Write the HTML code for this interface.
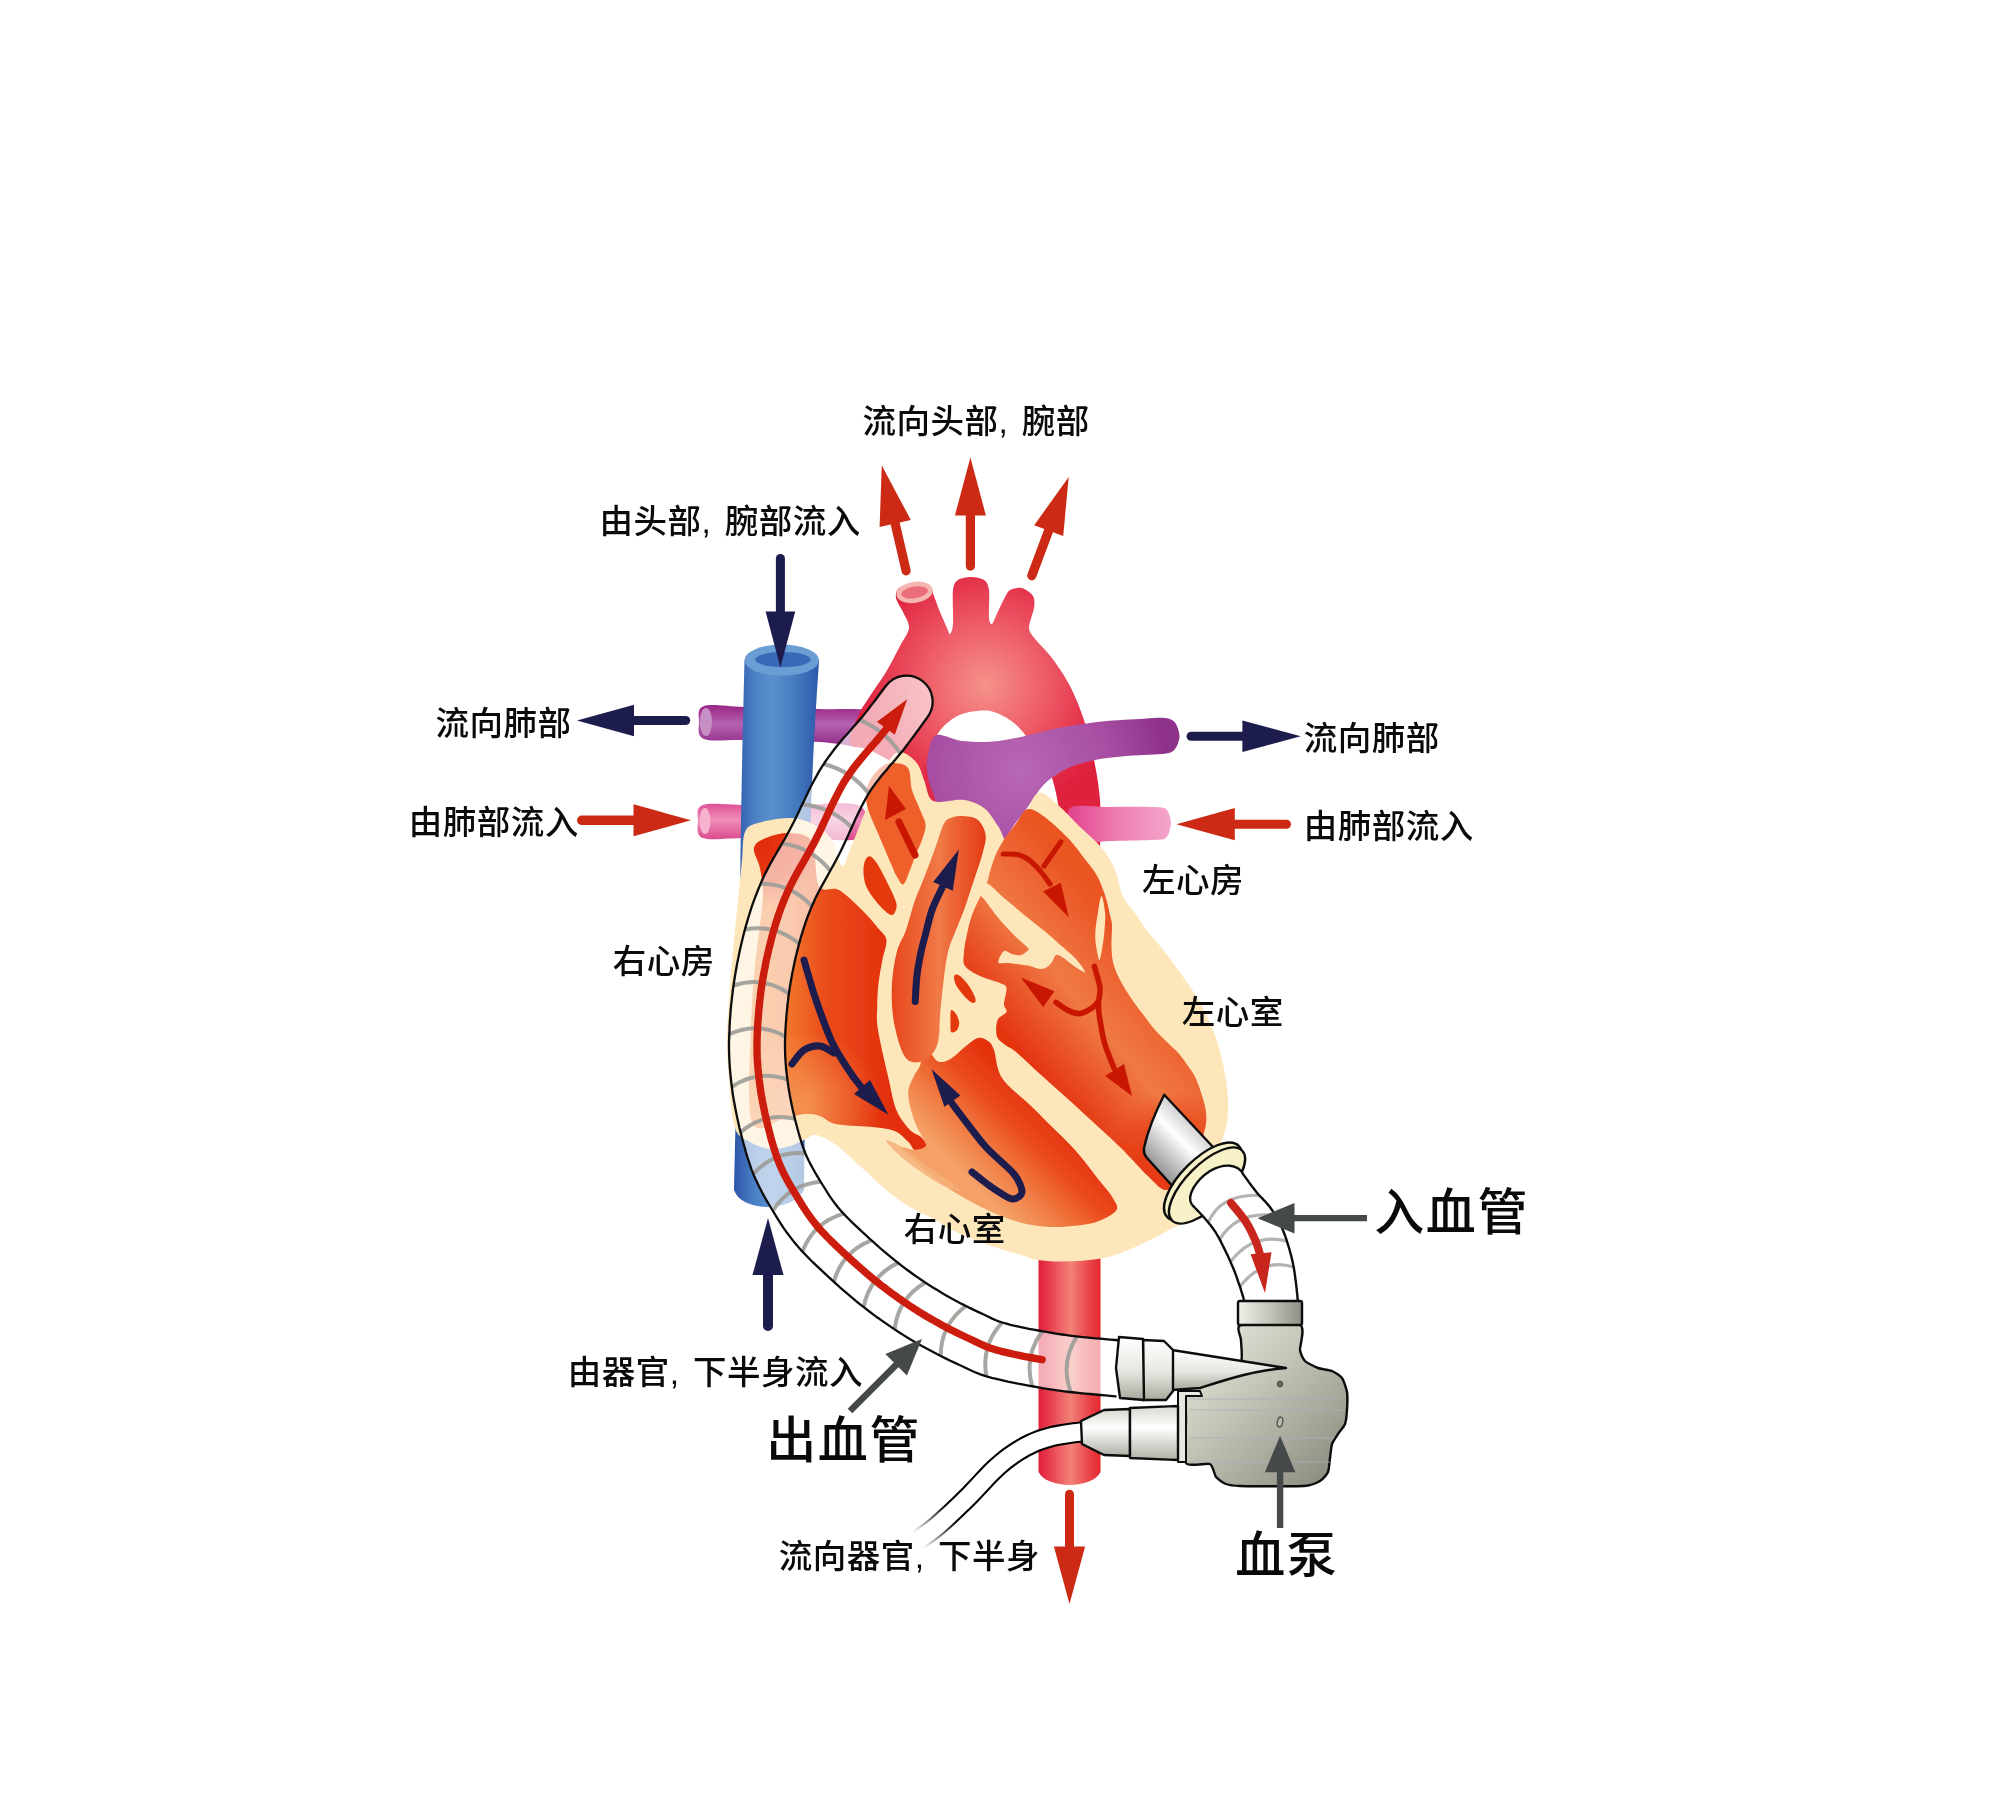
<!DOCTYPE html>
<html lang="zh"><head><meta charset="utf-8"><title>心脏与血泵示意图</title>
<style>html,body{margin:0;padding:0;background:#fff}body{width:2000px;height:1807px;overflow:hidden}svg{display:block}</style>
</head><body>
<svg width="2000" height="1807" viewBox="0 0 2000 1807">
<defs>
<linearGradient id="gBlue" x1="0" x2="1" y1="0" y2="0"><stop offset="0" stop-color="#2c55a8"/><stop offset=".25" stop-color="#4c82c6"/><stop offset=".45" stop-color="#5a90cd"/><stop offset=".75" stop-color="#4278bd"/><stop offset="1" stop-color="#2c58ac"/></linearGradient>
<linearGradient id="gPurV" x1="0" x2="0" y1="0" y2="1"><stop offset="0" stop-color="#9a2486"/><stop offset=".45" stop-color="#b463b0"/><stop offset="1" stop-color="#8e2484"/></linearGradient>
<linearGradient id="gPinkV" x1="0" x2="0" y1="0" y2="1"><stop offset="0" stop-color="#dd4f93"/><stop offset=".45" stop-color="#f08fb9"/><stop offset="1" stop-color="#d9478c"/></linearGradient>
<linearGradient id="gPinkR" x1="0" x2="1" y1="0" y2="0"><stop offset="0" stop-color="#e0408a"/><stop offset=".5" stop-color="#ee7fb2"/><stop offset="1" stop-color="#f3a6cb"/></linearGradient>
<linearGradient id="gAoD" x1="0" x2="1" y1="0" y2="0"><stop offset="0" stop-color="#e01e3a"/><stop offset=".25" stop-color="#ea4c56"/><stop offset=".52" stop-color="#f28278"/><stop offset=".78" stop-color="#ea4a50"/><stop offset="1" stop-color="#e4262e"/></linearGradient>
<radialGradient id="gAo" cx="985" cy="685" r="135" gradientUnits="userSpaceOnUse"><stop offset="0" stop-color="#f5928a"/><stop offset=".45" stop-color="#ee5c68"/><stop offset=".85" stop-color="#e22a46"/><stop offset="1" stop-color="#de203c"/></radialGradient>
<radialGradient id="gPA" cx="1020" cy="770" r="150" gradientUnits="userSpaceOnUse"><stop offset="0" stop-color="#b868b5"/><stop offset=".6" stop-color="#a74ea3"/><stop offset="1" stop-color="#8e308a"/></radialGradient>
<filter id="soft" x="-5%" y="-5%" width="110%" height="110%"><feGaussianBlur stdDeviation="0.55"/></filter>
<filter id="soft2" x="-5%" y="-5%" width="110%" height="110%"><feGaussianBlur stdDeviation="2.2"/></filter>
<filter id="soft6" x="-20%" y="-20%" width="140%" height="140%"><feGaussianBlur stdDeviation="6"/></filter>
<filter id="soft10" x="-30%" y="-30%" width="160%" height="160%"><feGaussianBlur stdDeviation="10"/></filter>


<linearGradient id="gRA" x1="745" y1="0" x2="892" y2="0" gradientUnits="userSpaceOnUse"><stop offset="0" stop-color="#f58a32"/><stop offset=".3" stop-color="#f2742c"/><stop offset=".55" stop-color="#ea4c1a"/><stop offset="1" stop-color="#e22e0c"/></linearGradient>
<radialGradient id="gRAt" cx="762" cy="846" r="62" gradientUnits="userSpaceOnUse"><stop offset="0" stop-color="#e22c0c" stop-opacity="1"/><stop offset=".55" stop-color="#e22c0c" stop-opacity=".85"/><stop offset="1" stop-color="#e22c0c" stop-opacity="0"/></radialGradient>
<radialGradient id="gRAb" cx="805" cy="1105" r="75" gradientUnits="userSpaceOnUse"><stop offset="0" stop-color="#f6a060" stop-opacity=".75"/><stop offset="1" stop-color="#f6a060" stop-opacity="0"/></radialGradient>
<linearGradient id="gRV" x1="1085" y1="1145" x2="1010" y2="1220" gradientUnits="userSpaceOnUse"><stop offset="0" stop-color="#e4300c"/><stop offset=".35" stop-color="#ea4c1c"/><stop offset=".7" stop-color="#f07e44"/><stop offset="1" stop-color="#f4a066"/></linearGradient>
<linearGradient id="gLV" x1="1060" y1="1100" x2="1180" y2="1000" gradientUnits="userSpaceOnUse"><stop offset="0" stop-color="#e43410"/><stop offset=".5" stop-color="#f07a44"/><stop offset="1" stop-color="#ea5424"/></linearGradient>
<linearGradient id="gLA" x1="1000" y1="840" x2="1100" y2="900" gradientUnits="userSpaceOnUse"><stop offset="0" stop-color="#e43810"/><stop offset=".5" stop-color="#f0743e"/><stop offset="1" stop-color="#e84a1e"/></linearGradient>
<radialGradient id="gApex" cx="1180" cy="1160" r="70" gradientUnits="userSpaceOnUse"><stop offset="0" stop-color="#e6340c" stop-opacity=".95"/><stop offset=".5" stop-color="#e6340c" stop-opacity=".6"/><stop offset="1" stop-color="#e6340c" stop-opacity="0"/></radialGradient>
<radialGradient id="gLAe" cx="1052" cy="868" r="62" gradientUnits="userSpaceOnUse"><stop offset="0" stop-color="#e4300c" stop-opacity="0"/><stop offset=".6" stop-color="#e4300c" stop-opacity="0"/><stop offset="1" stop-color="#e4300c" stop-opacity=".7"/></radialGradient>
<linearGradient id="gB3" x1="0" y1="0" x2="1" y2="0"><stop offset="0" stop-color="#e8461c"/><stop offset=".5" stop-color="#f07a46"/><stop offset="1" stop-color="#e43a14"/></linearGradient>


<linearGradient id="gCan" x1="1140" y1="1165" x2="1195" y2="1110" gradientUnits="userSpaceOnUse"><stop offset="0" stop-color="#7d7d7d"/><stop offset=".35" stop-color="#c8c8c8"/><stop offset=".6" stop-color="#ffffff"/><stop offset="1" stop-color="#b5b5b5"/></linearGradient>
<linearGradient id="gPump" x1="1200" y1="1340" x2="1340" y2="1490" gradientUnits="userSpaceOnUse"><stop offset="0" stop-color="#e4e4dc"/><stop offset=".45" stop-color="#bcbcae"/><stop offset="1" stop-color="#85857a"/></linearGradient>
<linearGradient id="gBand" x1="0" y1="0" x2="1" y2="0"><stop offset="0" stop-color="#f0f0ea"/><stop offset=".5" stop-color="#c4c4ba"/><stop offset="1" stop-color="#8e8e84"/></linearGradient>
<linearGradient id="gCol" x1="0" y1="0" x2="0" y2="1"><stop offset="0" stop-color="#ffffff"/><stop offset=".55" stop-color="#e6e6e0"/><stop offset="1" stop-color="#a8a89e"/></linearGradient>
<linearGradient id="gCol2" x1="0" y1="0" x2="0" y2="1"><stop offset="0" stop-color="#d8d8d0"/><stop offset=".4" stop-color="#ffffff"/><stop offset="1" stop-color="#b0b0a6"/></linearGradient>
<linearGradient id="gFade" x1="1081" y1="1432" x2="918" y2="1540" gradientUnits="userSpaceOnUse"><stop offset="0" stop-color="#000" stop-opacity="1"/><stop offset=".78" stop-color="#000" stop-opacity="1"/><stop offset="1" stop-color="#000" stop-opacity="0"/></linearGradient>
</defs>
<rect width="2000" height="1807" fill="#fff"/>
<g filter="url(#soft)">
<path d="M704 706C711.7 703.5 725.7 706.5 745 707C764.3 707.5 798.3 708 820 709C841.7 710 865.8 706.8 875 713C884.2 719.2 884.2 741.2 875 746C865.8 750.8 841.7 743 820 742C798.3 741 764.3 740.5 745 740C725.7 739.5 711.7 742 704 739C696.3 736 699 727.5 699 722C699 716.5 696.3 708.5 704 706Z" fill="url(#gPurV)"/>
<ellipse cx="706" cy="722" rx="6" ry="14" fill="#c690c4"/>
<path d="M703 805C710.8 802.3 728.8 805 745 805C761.2 805 780.8 804.8 800 805C819.2 805.2 850 800.5 860 806C870 811.5 870 832.7 860 838C850 843.3 819.2 838 800 838C780.8 838 761.2 838 745 838C728.8 838 710.8 840.8 703 838C695.2 835.2 698 826.5 698 821C698 815.5 695.2 807.7 703 805Z" fill="url(#gPinkV)"/>
<ellipse cx="705" cy="821" rx="5.5" ry="13" fill="#f5b3cf"/>
<path d="M744.5 660C743 720 741 800 740 900C739 1000 736 1100 734 1190C738 1201 750 1206 766 1207C784 1207 798 1201 804 1190C805 1100 808 1000 809 900C810 800 815 720 819.1 660Z" fill="url(#gBlue)"/>
<ellipse cx="781.8" cy="660.2" rx="37.3" ry="15.6" fill="#6a9dd3"/>
<ellipse cx="783" cy="659.6" rx="27.8" ry="7.6" fill="#3769b7"/>
</g>
<g filter="url(#soft)">
<path d="M850 744C848.2 738.9 855 723.2 858 716C861 708.8 865.8 702.6 870 696C874.2 689.4 881.5 679.5 886 672C890.5 664.5 896.5 652.6 900 646C903.5 639.4 908.5 633.1 909 628C909.5 622.9 905 616.5 903 612C901 607.5 896.6 601.6 896 598C895.4 594.4 896.3 590.2 899 588C901.7 585.8 909.5 583.5 914 583C918.5 582.5 926 583 929 585C932 587 932.4 592 934 596C935.6 600 938 607.2 940 612C942 616.8 945.5 624.7 947 628C948.5 631.3 949.1 634.6 950 634C950.9 633.4 952.5 630.6 953 624C953.5 617.4 952.2 596.6 953 590C953.8 583.4 955.3 582 958 580C960.7 578 967.1 577 971 577C974.9 577 981.3 578 984 580C986.7 582 988.2 584.3 989 590C989.8 595.7 988.5 612.9 989 618C989.5 623.1 991 624.3 992 624C993 623.7 994.2 619.8 996 616C997.8 612.2 1001.9 602.9 1004 599C1006.1 595.1 1007.3 591.6 1010 590C1012.7 588.4 1018.5 587.1 1022 588C1025.5 588.9 1031.2 593 1033 596C1034.8 599 1034.6 603.2 1034 608C1033.4 612.8 1028.7 623.2 1029 628C1029.3 632.8 1032.5 635.5 1036 640C1039.5 644.5 1046.9 651.1 1052 658C1057.1 664.9 1065.2 676.7 1070 686C1074.8 695.3 1080.4 708.9 1084 720C1087.6 731.1 1091.6 748 1094 760C1096.4 772 1099.1 786.5 1100 800C1100.9 813.5 1100.3 835 1100 850C1099.7 865 1104 892.5 1098 900C1092 907.5 1065.7 912 1060 900C1054.3 888 1061.5 839.2 1060 820C1058.5 800.8 1054.2 783.4 1050 772C1045.8 760.6 1037.4 751.4 1032 744C1026.6 736.6 1020.3 728 1014 723C1007.7 718 997.8 712.4 990 711C982.2 709.6 968.9 711.8 962 714C955.1 716.2 948.2 721.8 944 726C939.8 730.2 936.1 735.4 934 742C931.9 748.6 930.6 760.1 930 770C929.4 779.9 933.8 807.7 930 808C926.2 808.3 914 780.7 905 772C896 763.3 878.2 754.2 870 750C861.8 745.8 851.8 749.1 850 744Z" fill="url(#gAo)"/>
<ellipse cx="914.6" cy="592.4" rx="16" ry="8.2" fill="#ec6e78" stroke="#f6b6b2" stroke-width="4.6" transform="rotate(-9 914.6 592.4)"/>
<path d="M924 765H942V818H924Z" fill="#e22a46"/>
<path d="M1038.5 1240V1472C1042 1480 1056 1485 1069.5 1485C1083 1485 1097 1480 1100.5 1472V1240Z" fill="url(#gAoD)"/>
</g>
<g filter="url(#soft)">
<path d="M1070 808C1075.3 803.3 1099.3 807.1 1110 807C1120.7 806.9 1142.5 806.7 1150 807C1157.5 807.3 1163.2 806.9 1166 809C1168.8 811.1 1171 819.1 1171 823C1171 826.9 1168.8 835.7 1166 838C1163.2 840.3 1157.5 839.6 1150 840C1142.5 840.4 1120.7 840.7 1110 841C1099.3 841.3 1075.3 846.4 1070 842C1064.7 837.6 1064.7 812.7 1070 808Z" fill="url(#gPinkR)"/>
<path d="M935.4 735.5C940.6 732.4 953.8 740.2 962 741.1C970.2 742 981.6 742.3 990 741.8C998.4 741.3 1007.5 739.7 1018 737.6C1028.5 735.5 1047.4 730.2 1060 727.8C1072.6 725.4 1089.4 722.9 1102 721.5C1114.6 720.1 1134.5 719.2 1144 718.7C1153.5 718.2 1160.3 717.4 1165 718C1169.7 718.6 1172.8 719.8 1175 722.5C1177.2 725.2 1179.5 732.2 1179.5 736.2C1179.5 740.2 1177.2 746.4 1175 749C1172.8 751.6 1171.8 752.7 1165 753.7C1158.2 754.7 1140.5 754.9 1130 755.8C1119.5 756.7 1104.5 758.1 1095 760C1085.5 761.9 1074.3 765 1067 768.4C1059.7 771.8 1050.8 778.2 1046 782.4C1041.2 786.6 1037.7 792.4 1034.8 796.4C1031.9 800.4 1030.6 802.9 1026.4 809C1022.2 815.1 1010.8 827.9 1006.8 837C1002.8 846.1 1010 865 1000 870C990 875 949.6 879.8 940 870C930.4 860.2 937.6 818.2 936 805C934.4 791.8 930.4 788.5 929 782C927.6 775.5 926 769 927 762C928 755 930.1 738.6 935.4 735.5Z" fill="url(#gPA)"/>
</g>
<g filter="url(#soft)">
<path d="M745 832C747.7 825.8 750.5 825.3 758 823C765.5 820.7 780.5 817.7 790 818C799.5 818.3 808 821.3 815 825C822 828.7 827.5 833.2 832 840C836.5 846.8 839 864.3 842 866C845 867.7 845.7 860.2 850 850C854.3 839.8 862.3 818.3 868 805C873.7 791.7 879 778.8 884 770C889 761.2 892.7 753.3 898 752C903.3 750.7 911.7 757.3 916 762C920.3 766.7 921.7 774 924 780C926.3 786 927.3 794.3 930 798C932.7 801.7 934.3 801.7 940 802C945.7 802.3 956.7 799 964 800C971.3 801 978.3 803.7 984 808C989.7 812.3 994 820.3 998 826C1002 831.7 1004 842.7 1008 842C1012 841.3 1017 830.2 1022 822C1027 813.8 1032 795.8 1038 793C1044 790.2 1051.2 799.5 1058 805C1064.8 810.5 1072 819.2 1079 826C1086 832.8 1094.2 839.2 1100 846C1105.8 852.8 1110.2 858.6 1114 867C1117.8 875.4 1119.5 888.9 1123 896.6C1126.5 904.3 1131.1 907.5 1135 913C1138.9 918.5 1142.2 924.3 1146.4 929.8C1150.6 935.3 1155.6 940.5 1160 946C1164.4 951.5 1167 954.6 1173 963C1179 971.4 1189.6 985.1 1196.2 996.2C1202.8 1007.3 1208.4 1018.4 1212.8 1029.5C1217.2 1040.6 1220.3 1051.6 1222.8 1062.7C1225.3 1073.8 1227.1 1086 1227.8 1095.9C1228.5 1105.8 1228.1 1114.2 1227 1122C1225.9 1129.8 1223.8 1135.3 1221 1143C1218.2 1150.7 1214 1158.8 1210 1168C1206 1177.2 1201.8 1188.9 1197 1198C1192.2 1207.1 1186 1217.2 1181.3 1222.5C1176.6 1227.8 1174 1227.1 1168.8 1230C1163.6 1232.9 1157.3 1236.5 1150 1240C1142.7 1243.5 1133.3 1248.2 1125 1251.3C1116.7 1254.4 1110.2 1257.1 1100 1258.8C1089.8 1260.5 1074.4 1261.3 1064 1261.5C1053.6 1261.7 1044 1260.9 1037.5 1260C1031 1259.1 1031.2 1258.2 1025 1256.3C1018.8 1254.4 1007.5 1251.2 1000 1248.8C992.5 1246.4 988 1245.1 980 1242C972 1238.9 960 1234 952 1230C944 1226 939.3 1222 932 1218C924.7 1214 916 1211 908 1206C900 1201 892 1194.7 884 1188C876 1181.3 868 1173.2 860 1166C852 1158.8 843.3 1150.2 836 1145C828.7 1139.8 821.3 1135.8 816 1135C810.7 1134.2 808.3 1138.2 804 1140C799.7 1141.8 795.7 1144.5 790 1146C784.3 1147.5 776.7 1149.7 770 1149C763.3 1148.3 755.8 1145.5 750 1142C744.2 1138.5 738.5 1138.3 735 1128C731.5 1117.7 730.3 1094.7 729 1080C727.7 1065.3 727 1053.3 727 1040C727 1026.7 728 1015 729 1000C730 985 731.5 966.7 733 950C734.5 933.3 736.5 915 738 900C739.5 885 740.8 871.3 742 860C743.2 848.7 742.3 838.2 745 832Z" fill="#fee6bb"/>
<path d="M754 848C755 843 760 840.5 766 838C772 835.5 782.3 832.3 790 833C797.7 833.7 807.2 833.2 812 842C816.8 850.8 814.5 878 819 886C823.5 894 831.8 886 839 890C846.2 894 855.5 903.7 862 910C868.5 916.3 873.9 923 878 928C882.1 933 885.7 934.7 886.4 940C887.1 945.3 883.7 952.7 882.4 960C881.1 967.3 879.3 976 878.4 984C877.5 992 877.3 1000.3 877.2 1008C877.1 1015.7 876.1 1018.3 878 1030C879.9 1041.7 885.3 1064.7 888.4 1078C891.5 1091.3 892.8 1101.3 896.4 1110C900 1118.7 905.9 1125.5 910 1130C914.1 1134.5 918.3 1134.3 921 1137C923.7 1139.7 927 1143.8 926 1146C925 1148.2 917.9 1150.7 915 1150C912.1 1149.3 911.9 1145.2 908.4 1142C904.9 1138.8 900.4 1133.3 894 1130.8C887.6 1128.3 879.7 1127.9 870 1126.8C860.3 1125.7 844.3 1125.8 836 1124C827.7 1122.2 825.3 1117.7 820 1116C814.7 1114.3 810.7 1113.3 804 1114C797.3 1114.7 787 1117.7 780 1120C773 1122.3 766.7 1127.7 762 1128C757.3 1128.3 754.2 1128 752 1122C749.8 1116 749.2 1105.8 749 1092C748.8 1078.2 749.8 1056.7 750.5 1039C751.2 1021.3 751.8 1002.5 753 986C754.2 969.5 756.3 955.2 758 940C759.7 924.8 762.7 907 763 895C763.3 883 761.5 875.8 760 868C758.5 860.2 753 853 754 848Z" fill="url(#gRA)"/>
<path d="M754 848C755 843 760 840.5 766 838C772 835.5 782.3 832.3 790 833C797.7 833.7 807.2 833.2 812 842C816.8 850.8 814.5 878 819 886C823.5 894 831.8 886 839 890C846.2 894 855.5 903.7 862 910C868.5 916.3 873.9 923 878 928C882.1 933 885.7 934.7 886.4 940C887.1 945.3 883.7 952.7 882.4 960C881.1 967.3 879.3 976 878.4 984C877.5 992 877.3 1000.3 877.2 1008C877.1 1015.7 876.1 1018.3 878 1030C879.9 1041.7 885.3 1064.7 888.4 1078C891.5 1091.3 892.8 1101.3 896.4 1110C900 1118.7 905.9 1125.5 910 1130C914.1 1134.5 918.3 1134.3 921 1137C923.7 1139.7 927 1143.8 926 1146C925 1148.2 917.9 1150.7 915 1150C912.1 1149.3 911.9 1145.2 908.4 1142C904.9 1138.8 900.4 1133.3 894 1130.8C887.6 1128.3 879.7 1127.9 870 1126.8C860.3 1125.7 844.3 1125.8 836 1124C827.7 1122.2 825.3 1117.7 820 1116C814.7 1114.3 810.7 1113.3 804 1114C797.3 1114.7 787 1117.7 780 1120C773 1122.3 766.7 1127.7 762 1128C757.3 1128.3 754.2 1128 752 1122C749.8 1116 749.2 1105.8 749 1092C748.8 1078.2 749.8 1056.7 750.5 1039C751.2 1021.3 751.8 1002.5 753 986C754.2 969.5 756.3 955.2 758 940C759.7 924.8 762.7 907 763 895C763.3 883 761.5 875.8 760 868C758.5 860.2 753 853 754 848Z" fill="url(#gRAb)"/>
<path d="M754 848C755 843 760 840.5 766 838C772 835.5 782.3 832.3 790 833C797.7 833.7 807.2 833.2 812 842C816.8 850.8 814.5 878 819 886C823.5 894 831.8 886 839 890C846.2 894 855.5 903.7 862 910C868.5 916.3 873.9 923 878 928C882.1 933 885.7 934.7 886.4 940C887.1 945.3 883.7 952.7 882.4 960C881.1 967.3 879.3 976 878.4 984C877.5 992 877.3 1000.3 877.2 1008C877.1 1015.7 876.1 1018.3 878 1030C879.9 1041.7 885.3 1064.7 888.4 1078C891.5 1091.3 892.8 1101.3 896.4 1110C900 1118.7 905.9 1125.5 910 1130C914.1 1134.5 918.3 1134.3 921 1137C923.7 1139.7 927 1143.8 926 1146C925 1148.2 917.9 1150.7 915 1150C912.1 1149.3 911.9 1145.2 908.4 1142C904.9 1138.8 900.4 1133.3 894 1130.8C887.6 1128.3 879.7 1127.9 870 1126.8C860.3 1125.7 844.3 1125.8 836 1124C827.7 1122.2 825.3 1117.7 820 1116C814.7 1114.3 810.7 1113.3 804 1114C797.3 1114.7 787 1117.7 780 1120C773 1122.3 766.7 1127.7 762 1128C757.3 1128.3 754.2 1128 752 1122C749.8 1116 749.2 1105.8 749 1092C748.8 1078.2 749.8 1056.7 750.5 1039C751.2 1021.3 751.8 1002.5 753 986C754.2 969.5 756.3 955.2 758 940C759.7 924.8 762.7 907 763 895C763.3 883 761.5 875.8 760 868C758.5 860.2 753 853 754 848Z" fill="url(#gRAt)"/>
<path d="M880 768C884.2 764.3 888.3 763 893 763C897.7 763 904.8 763.5 908 768C911.2 772.5 909.8 782.7 912 790C914.2 797.3 918.7 806.1 921 812C923.3 817.9 925.4 820.5 925.6 825.2C925.8 829.9 923.6 835.2 922 840C920.4 844.8 918 849 916 854C914 859 912.1 864.9 910 870C907.9 875.1 905.5 883.6 903.2 884.4C900.9 885.2 897.9 878.1 896 875C894.1 871.9 894.7 872.2 892 866C889.3 859.8 884.1 848 880 838C875.9 828 869.2 814.8 867.2 806C865.2 797.2 865.9 791.3 868 785C870.1 778.7 875.8 771.7 880 768Z" fill="#ee5e2c"/>
<path d="M868.8 856.4C870.8 856.1 873.1 858.1 876 862C878.9 865.9 882.7 873.3 886 880C889.3 886.7 894.5 896.7 896 902C897.5 907.3 895.9 909.9 895 912C894.1 914.1 892.9 915.8 890.4 914.8C887.9 913.8 883.7 910.1 880 906C876.3 901.9 870.7 894.7 868 890C865.3 885.3 864.7 882.3 864 878C863.3 873.7 863.2 867.6 864 864C864.8 860.4 866.8 856.7 868.8 856.4Z" fill="#e4380e"/>
<path d="M922 1050C923.6 1048 927.7 1050.7 930 1052.4C932.3 1054.1 934 1058.4 936 1060C938 1061.6 939.3 1062.3 942 1062C944.7 1061.7 948 1060.7 952 1058C956 1055.3 961.7 1049.3 966 1046C970.3 1042.7 974.3 1038.8 978 1038C981.7 1037.2 985.3 1039 988 1041C990.7 1043 991.7 1043.8 994 1050C996.3 1056.2 996 1068.8 1002 1078C1008 1087.2 1022 1097.2 1030 1105C1038 1112.8 1042.5 1117.5 1050 1125C1057.5 1132.5 1066.7 1140.6 1075 1150C1083.3 1159.4 1093.8 1173.4 1100 1181.3C1106.2 1189.2 1109.8 1192.7 1112.5 1197.5C1115.2 1202.3 1118.8 1206.1 1116.5 1210C1114.2 1213.9 1105.4 1218.4 1099 1221C1092.6 1223.6 1086.2 1224.5 1078 1225.5C1069.8 1226.5 1059.3 1227.4 1050 1227C1040.7 1226.6 1031.3 1225.3 1022 1223C1012.7 1220.7 1003.3 1217 994 1213C984.7 1209 975.3 1204.3 966 1199C956.7 1193.7 946.7 1187.5 938 1181C929.3 1174.5 920.3 1165.7 914 1160C907.7 1154.3 899.8 1148.7 900 1147C900.2 1145.3 910.7 1150.2 915 1150C919.3 1149.8 924.8 1148.3 926 1146C927.2 1143.7 923.6 1139.7 922 1136.4C920.4 1133.1 918.4 1131.1 916.4 1126C914.4 1120.9 911.3 1112 910 1106C908.7 1100 907.7 1095 908.4 1090C909.1 1085 912 1080.3 914 1076C916 1071.7 919.1 1068.7 920.4 1064.4C921.7 1060.1 920.4 1052 922 1050Z" fill="url(#gRV)"/>
<path d="M944 823.6C946.7 818.9 948.5 818.7 952 817.5C955.5 816.3 960.7 815.8 965 816.2C969.3 816.6 974.6 816.9 978 820C981.4 823.1 984.9 829.1 985.6 834.8C986.3 840.5 984.7 845.5 982.4 854C980.1 862.5 975.1 876.7 972 886C968.9 895.3 966.7 902.7 964 910C961.3 917.3 958.7 923 956 930C953.3 937 950.1 943 948 952C945.9 961 944.5 973.3 943.2 984C941.9 994.7 940.7 1007.3 940 1016C939.3 1024.7 939.7 1030.7 939 1036C938.3 1041.3 937.5 1044.7 936 1048C934.5 1051.3 932.7 1053.7 930 1056C927.3 1058.3 923.7 1061.3 920 1062C916.3 1062.7 911.3 1062.7 908 1060C904.7 1057.3 902.5 1053.3 900 1046C897.5 1038.7 894.3 1026.3 893 1016C891.7 1005.7 891.4 994.7 892 984C892.6 973.3 894.5 961 896.8 952C899.1 943 903.1 938.3 906 930C908.9 921.7 911.4 910.7 914.4 902C917.4 893.3 920.4 887.3 924 878C927.6 868.7 932.7 855.1 936 846C939.3 836.9 941.3 828.4 944 823.6Z" fill="url(#gB3)"/>
<path d="M1027.2 809.2C1031.9 808 1037.2 811.6 1044 816.4C1050.8 821.2 1061.3 831.1 1068 838C1074.7 844.9 1079.3 852 1084 858C1088.7 864 1092.8 868.7 1096 874C1099.2 879.3 1101.4 885.3 1103.2 890C1105 894.7 1105.9 897.8 1107 902C1108.1 906.2 1109.2 911.2 1110 915C1110.8 918.8 1111.8 919.8 1112 925C1112.2 930.2 1111.3 939.7 1111.5 946C1111.7 952.3 1111.8 957.3 1113.2 963C1114.6 968.7 1117.2 974.5 1120 980C1122.8 985.5 1126.1 990.7 1129.8 996.2C1133.5 1001.7 1137.8 1007.5 1142 1013C1146.2 1018.5 1150.5 1024.7 1154.7 1029.5C1158.9 1034.3 1162.8 1037.8 1167 1042C1171.2 1046.2 1176.1 1050.4 1179.6 1054.4C1183.1 1058.4 1185.2 1061.8 1188 1066C1190.8 1070.2 1193.5 1072.9 1196.2 1079.3C1199 1085.7 1202.8 1097.3 1204.5 1104.2C1206.2 1111.1 1206.5 1115.5 1206.2 1120.8C1206 1126.1 1204.7 1130.1 1203 1136C1201.3 1141.9 1199.5 1149.3 1196 1156C1192.5 1162.7 1187 1170.3 1182 1176C1177 1181.7 1171.7 1190 1166 1190C1160.3 1190 1155.7 1183.2 1148 1176C1140.3 1168.8 1131.3 1158 1120 1147C1108.7 1136 1093.3 1122.2 1080 1110C1066.7 1097.8 1050.7 1083.7 1040 1074C1029.3 1064.3 1022 1057 1016 1052C1010 1047 1007.2 1046.7 1004 1044C1000.8 1041.3 997.9 1040 996.8 1036C995.7 1032 996 1024 997.6 1020C999.2 1016 1005.3 1014.7 1006.4 1012C1007.5 1009.3 1004 1008 1004 1004C1004 1000 1007.1 991.5 1006.4 988C1005.7 984.5 1004.4 985 1000 983C995.6 981 985.8 978.8 980 976C974.2 973.2 967.7 970 965 966C962.3 962 963.7 957.3 964 952C964.3 946.7 965.7 940.2 967 934C968.3 927.8 969.8 921.2 972 915C974.2 908.8 977.5 902.5 980 897C982.5 891.5 985.5 886.5 987.2 882C988.9 877.5 988.9 874.7 990.4 870C991.9 865.3 993.7 859.1 996 854C998.3 848.9 1000.7 844.7 1004 839.6C1007.3 834.5 1012.1 828.7 1016 823.6C1019.9 818.5 1022.5 810.4 1027.2 809.2Z" fill="url(#gLV)"/>
<path d="M1027.2 809.2C1031.9 808 1037.2 811.6 1044 816.4C1050.8 821.2 1061.3 831.1 1068 838C1074.7 844.9 1079.3 852 1084 858C1088.7 864 1092.8 868.7 1096 874C1099.2 879.3 1101.4 885.3 1103.2 890C1105 894.7 1105.9 897.8 1107 902C1108.1 906.2 1109.2 911.2 1110 915C1110.8 918.8 1111.8 919.8 1112 925C1112.2 930.2 1111.3 939.7 1111.5 946C1111.7 952.3 1111.8 957.3 1113.2 963C1114.6 968.7 1117.2 974.5 1120 980C1122.8 985.5 1126.1 990.7 1129.8 996.2C1133.5 1001.7 1137.8 1007.5 1142 1013C1146.2 1018.5 1150.5 1024.7 1154.7 1029.5C1158.9 1034.3 1162.8 1037.8 1167 1042C1171.2 1046.2 1176.1 1050.4 1179.6 1054.4C1183.1 1058.4 1185.2 1061.8 1188 1066C1190.8 1070.2 1193.5 1072.9 1196.2 1079.3C1199 1085.7 1202.8 1097.3 1204.5 1104.2C1206.2 1111.1 1206.5 1115.5 1206.2 1120.8C1206 1126.1 1204.7 1130.1 1203 1136C1201.3 1141.9 1199.5 1149.3 1196 1156C1192.5 1162.7 1187 1170.3 1182 1176C1177 1181.7 1171.7 1190 1166 1190C1160.3 1190 1155.7 1183.2 1148 1176C1140.3 1168.8 1131.3 1158 1120 1147C1108.7 1136 1093.3 1122.2 1080 1110C1066.7 1097.8 1050.7 1083.7 1040 1074C1029.3 1064.3 1022 1057 1016 1052C1010 1047 1007.2 1046.7 1004 1044C1000.8 1041.3 997.9 1040 996.8 1036C995.7 1032 996 1024 997.6 1020C999.2 1016 1005.3 1014.7 1006.4 1012C1007.5 1009.3 1004 1008 1004 1004C1004 1000 1007.1 991.5 1006.4 988C1005.7 984.5 1004.4 985 1000 983C995.6 981 985.8 978.8 980 976C974.2 973.2 967.7 970 965 966C962.3 962 963.7 957.3 964 952C964.3 946.7 965.7 940.2 967 934C968.3 927.8 969.8 921.2 972 915C974.2 908.8 977.5 902.5 980 897C982.5 891.5 985.5 886.5 987.2 882C988.9 877.5 988.9 874.7 990.4 870C991.9 865.3 993.7 859.1 996 854C998.3 848.9 1000.7 844.7 1004 839.6C1007.3 834.5 1012.1 828.7 1016 823.6C1019.9 818.5 1022.5 810.4 1027.2 809.2Z" fill="url(#gApex)"/>
<path d="M986 883C990.2 883.8 997 892.2 1004 898C1011 903.8 1020.7 912 1028 918C1035.3 924 1042.7 929.5 1048 934C1053.3 938.5 1055.5 940.8 1060 944.8C1064.5 948.8 1070.8 953.5 1075 958C1079.2 962.5 1085.2 970.7 1085 972C1084.8 973.3 1077.8 968.5 1074 966C1070.2 963.5 1065 958.8 1062 957C1059 955.2 1057.7 954.2 1056 955C1054.3 955.8 1053.5 960 1052 962C1050.5 964 1049 965.8 1047 967C1045 968.2 1042.8 969.2 1040 969C1037.2 968.8 1033.3 966.8 1030 966C1026.7 965.2 1023.7 965 1020 964.5C1016.3 964 1011.6 963.4 1008 963C1004.4 962.6 999.1 964.4 998.4 962.4C997.7 960.4 1001.7 952.4 1004 951C1006.3 949.6 1009.3 953.3 1012 954C1014.7 954.7 1017.7 955.5 1020 955.2C1022.3 954.9 1024.7 953.2 1026 952C1027.3 950.8 1029.7 950.5 1028 948C1026.3 945.5 1020.7 941.7 1016 937C1011.3 932.3 1005.2 926.2 1000 920C994.8 913.8 988.3 904.5 984.8 900C981.3 895.5 978.8 895.8 979 893C979.2 890.2 981.8 882.2 986 883Z" fill="#fee6bb"/>
<path d="M1101.6 896C1102.8 896 1104.5 907 1105 912C1105.5 917 1105.1 921 1104.8 926C1104.5 931 1104 936.5 1103.2 942C1102.4 947.5 1100.9 956.7 1100 959C1099.1 961.3 1098.8 959.8 1098 956C1097.2 952.2 1095.2 943.3 1095.2 936C1095.2 928.7 1096.9 918.7 1098 912C1099.1 905.3 1100.4 896 1101.6 896Z" fill="#fee6bb"/>
<path d="M954.4 975.5C955.1 974 957.6 974.2 960 976C962.4 977.8 966.4 982.2 969 986C971.6 989.8 974.8 996.2 975.5 999C976.2 1001.8 974.6 1003.2 973 1003C971.4 1002.8 968.8 1001 966 998C963.2 995 957.9 988.8 956 985C954.1 981.2 953.7 977 954.4 975.5Z" fill="#e4380e"/>
<path d="M951 1010.4C951.9 1009.2 954.6 1012 956 1014C957.4 1016 959 1019.7 959.2 1022.4C959.4 1025.1 958.3 1028.4 957 1030C955.7 1031.6 952.3 1033.5 951.2 1032C950.1 1030.5 950.5 1024.6 950.5 1021C950.5 1017.4 950.1 1011.6 951 1010.4Z" fill="#e4380e"/>
<path d="M886 1141C885.2 1138.7 892.7 1141.5 900 1146C907.3 1150.5 920 1160.7 930 1168C940 1175.3 958.3 1187.3 960 1190C961.7 1192.7 949.2 1189 940 1184C930.8 1179 914 1167.2 905 1160C896 1152.8 886.8 1143.3 886 1141Z" fill="#f6b07a" opacity=".85"/>
</g>
<g filter="url(#soft)" fill="none" stroke-linecap="round" stroke-linejoin="round">
<path d="M915.2 1001.6C915.5 997.2 916 983.3 917 975C918 966.7 919.6 958.8 921 952C922.4 945.2 923.8 941 925.6 934C927.4 927 929.3 917.7 932 910C934.7 902.3 940.3 891.7 942 888" stroke="#1d1a4e" stroke-width="7"/>
<path d="M958.8 849.6L933.2 882L952.8 890.8Z" fill="#1d1a4e"/>
<path d="M804 960C806 966.7 811.3 986.3 816 1000C820.7 1013.7 826.3 1030 832 1042C837.7 1054 845 1064.3 850 1072C855 1079.7 860 1085.3 862 1088" stroke="#1d1a4e" stroke-width="7"/>
<path d="M792 1064C794 1061.7 799.3 1053 804 1050C808.7 1047 815 1045.5 820 1046C825 1046.5 831.7 1051.8 834 1053" stroke="#1d1a4e" stroke-width="7"/>
<path d="M888.4 1114.8L854 1094L870 1080Z" fill="#1d1a4e"/>
<path d="M951 1102C955.5 1107.9 976.6 1136.4 985 1146C993.4 1155.6 1009.1 1167.9 1014 1174C1018.9 1180.1 1022.3 1188.7 1022 1192C1021.7 1195.3 1016.3 1199.8 1012 1199C1007.7 1198.2 995.3 1189.6 990 1186C984.7 1182.4 974.4 1173.9 972 1172" stroke="#1d1a4e" stroke-width="7"/>
<path d="M931.6 1069.2L944.4 1106.8L960.4 1095.6Z" fill="#1d1a4e"/>
<path d="M915 855L899 822" stroke="#c81806" stroke-width="7"/>
<path d="M889 786L885 820L906 809Z" fill="#c81806"/>
<path d="M1003.2 854C1005.7 854.1 1014 853.7 1018.4 854.8C1022.8 855.9 1025.9 857.6 1029.6 860.4C1033.3 863.2 1037.4 867.7 1040.8 871.6C1044.2 875.5 1048.5 881.9 1050 884" stroke="#c81806" stroke-width="5.2"/>
<path d="M1060.8 842L1044 866" stroke="#c81806" stroke-width="5.2"/>
<path d="M1068.8 917.2L1043.2 891.6L1060.8 882.8Z" fill="#c81806"/>
<path d="M1094.4 966.4C1095.3 970 1099.3 981.7 1100 988C1100.7 994.3 1098.4 998.7 1098.4 1004C1098.4 1009.3 1098.9 1013.3 1100 1020C1101.1 1026.7 1102.5 1036 1104.8 1044C1107.1 1052 1112.5 1064 1114 1068" stroke="#c81806" stroke-width="5.6"/>
<path d="M1132 1096L1105 1076L1124 1064Z" fill="#c81806"/>
<path d="M1097 1003C1096.2 1003.8 1094.8 1006.2 1092 1008C1089.2 1009.8 1084 1013.2 1080 1013.6C1076 1014 1072 1012.3 1068 1010.4C1064 1008.5 1058 1003.7 1056 1002.4" stroke="#c81806" stroke-width="5.6"/>
<path d="M1020.8 977.6L1043.2 1007.2L1054.4 991.2Z" fill="#c81806"/>
</g>
<g filter="url(#soft)">
<path d="M1164.2 1094.7L1213 1147L1176 1190L1147 1158Q1142.5 1153 1144.5 1146Q1149 1125 1164.2 1094.7Z" fill="url(#gCan)" stroke="#0c0c0c" stroke-width="2.4" stroke-linejoin="round"/>
</g>
<g filter="url(#soft)">
<path d="M1121.5 1340.6L1120.2 1340.5L1115.2 1340L1110.1 1339.6L1105.2 1339.2L1100.3 1338.7L1095.4 1338.3L1090.5 1337.8L1085.7 1337.4L1080.9 1336.9L1076.2 1336.3L1071.5 1335.8L1066.8 1335.2L1062.1 1334.5L1057.4 1333.8L1052.6 1333L1047.9 1332.2L1043.1 1331.4L1038.3 1330.5L1033.6 1329.6L1029 1328.8L1024.3 1327.8L1019.7 1326.8L1015 1325.8L1010.5 1324.8L1006.5 1323.7L1002.2 1322.5L998.7 1321.4L995.9 1320.2L992.2 1318.6L987.9 1316.5L983.2 1314.2L978.6 1312.1L974.3 1310.1L970.1 1308.1L965.9 1306L961.7 1303.9L957.6 1301.7L953.4 1299.4L949.4 1297.2L945.3 1294.9L941.2 1292.5L937.3 1290.1L933.3 1287.7L929.4 1285.3L925.4 1282.6L921.5 1280L917.7 1277.4L913.8 1274.7L910.1 1272L906.3 1269.2L902.5 1266.3L898.8 1263.5L895.2 1260.7L891.5 1257.6L887.9 1254.7L884.3 1251.7L880.6 1248.5L877.1 1245.4L873.6 1242.2L869.9 1239L866.4 1235.7L862.9 1232.5L859.3 1229.1L855.8 1225.8L852.4 1222.6L849 1219.2L845.9 1216.1L843 1213L840.2 1209.9L837.5 1206.7L835 1203.5L832.5 1200.1L830 1196.6L827.6 1192.9L825.2 1189L822.7 1185L820.1 1180.9L817.7 1176.8L815.3 1172.8L813 1168.7L810.9 1164.9L809 1161.3L807.3 1157.7L805.5 1153.7L804.1 1150L802.7 1146.2L801.3 1141.9L800 1137.7L798.7 1133.2L797.5 1128.8L796.3 1124.2L795.1 1119.6L794 1115.1L792.9 1110.4L791.9 1105.9L791 1101.5L790.1 1096.8L789.3 1092.3L788.5 1087.6L787.9 1083.2L787.3 1078.7L786.7 1074L786.2 1069.5L785.8 1065L785.5 1060.6L785.2 1056.3L785.1 1051.6L785 1047.3L785 1042.6L785.1 1038.2L785.3 1033.4L785.5 1028.9L785.8 1024.2L786.2 1019.4L786.5 1014.9L787 1010.1L787.4 1005.4L788 1000.9L788.5 996.2L789.2 991.5L789.9 986.9L790.6 982.5L791.5 977.8L792.3 973.1L793.3 968.4L794.2 964L795.2 959.3L796.3 954.7L797.4 950.3L798.6 945.7L799.8 941.1L801 936.8L802.4 932.3L803.7 928.1L805.2 923.6L806.6 919.5L808.2 915.2L809.8 911.2L811.6 906.9L813.3 903L815.2 898.8L817 895.1L819.1 891L821.3 886.9L823.5 882.9L825.9 878.6L828.3 874.2L830.8 869.8L833.4 865.1L835.9 860.5L838.4 855.8L840.8 851L843.1 846.2L845.3 841.4L847.5 836.7L849.6 832.1L851.7 827.5L853.7 823L855.7 818.6L857.7 814.3L859.8 810.1L861.8 806L863.9 802L865.9 798.2L868.1 794.5L870.3 790.9L872.7 787.4L875.2 783.9L877.9 780.4L880.7 776.8L883.4 773.5L886.5 769.9L889.6 766.1L892.9 762.4L896.2 758.5L899.5 754.5L903.1 750.2L906.3 746L909.6 741.6L912.7 737.5L915.8 733.3L918.8 729.2L921.7 725.1L924.7 721L927.6 717A26 26 0 0 0 885.6 686.2L882.6 690.3L879.6 694.3L876.7 698.2L873.8 702.1L870.8 705.9L867.9 709.8L865 713.4L862.1 717L859.2 720.3L856.1 723.9L852.8 727.6L849.5 731.4L846.1 735.2L842.7 739.1L839 743.5L835.5 747.8L832.1 752.2L828.7 756.8L825.4 761.5L822.2 766.3L819.2 771.2L816.5 776.1L813.8 781L811.3 785.8L808.9 790.5L806.6 795.2L804.4 799.9L802.2 804.5L800.1 809L798 813.4L795.9 817.7L793.8 822L791.7 826.1L789.5 830.3L787.3 834.3L785 838.5L782.6 842.5L780.1 846.8L777.6 851.1L775.1 855.5L772.4 860.1L769.8 864.8L767.3 869.6L764.6 874.8L762.3 879.8L760 885.1L758 890L755.9 895.3L754 900.3L752.1 905.6L750.5 910.7L748.8 916L747.3 921.1L745.8 926.4L744.4 931.4L743.1 936.5L741.8 941.9L740.6 947L739.5 952.1L738.4 957.4L737.3 962.6L736.4 967.7L735.5 972.9L734.6 978.3L733.8 983.5L733 988.8L732.4 994L731.8 999.5L731.2 1004.7L730.7 1009.9L730.3 1015.3L729.9 1020.5L729.6 1025.8L729.4 1031.2L729.2 1036.5L729 1042.1L729 1047.4L729.1 1053.1L729.3 1058.4L729.6 1064L730 1069.6L730.5 1075.1L731.1 1080.5L731.7 1085.7L732.4 1091.1L733.2 1096.6L734.1 1101.8L735.1 1107.2L736.1 1112.3L737.2 1117.6L738.4 1122.9L739.5 1128L740.8 1133.1L742.1 1138.3L743.4 1143.3L744.9 1148.6L746.3 1153.7L748 1159.1L749.7 1164.2L751.7 1169.8L753.9 1175.5L756.2 1180.6L758.8 1186L761.5 1191.3L764.2 1196.3L766.8 1200.8L769.6 1205.5L772.3 1210L775 1214.4L777.7 1218.8L780.6 1223.4L783.7 1228.1L787 1232.8L790.5 1237.4L794.1 1242L797.9 1246.5L801.8 1250.9L805.7 1255L809.6 1259L813.3 1262.7L817.2 1266.4L821 1269.9L824.7 1273.4L828.5 1276.9L832.3 1280.4L836.1 1283.9L840 1287.4L844 1290.8L847.9 1294.2L852 1297.6L856.1 1301.1L860.1 1304.3L864.4 1307.7L868.7 1311L872.8 1314.1L877.1 1317.3L881.5 1320.4L885.8 1323.4L890.2 1326.4L894.6 1329.4L899 1332.2L903.5 1335.1L908.1 1338L912.7 1340.7L917.3 1343.4L921.9 1346L926.6 1348.6L931.3 1351.1L936 1353.6L940.7 1356L945.5 1358.4L950.3 1360.7L955 1362.9L959.5 1365L963.8 1367L968.5 1369.3L973.9 1371.7L980.4 1374.3L986.4 1376.3L991.8 1377.8L997.5 1379.2L1002.6 1380.4L1007.8 1381.6L1012.9 1382.6L1018 1383.7L1023.3 1384.7L1028.4 1385.6L1033.4 1386.5L1038.5 1387.4L1043.6 1388.3L1048.7 1389.1L1053.9 1389.9L1059.1 1390.6L1064.4 1391.3L1069.6 1392L1074.8 1392.5L1079.9 1393.1L1085 1393.6L1090.1 1394L1095.2 1394.5L1100.3 1395L1105.3 1395.4L1110.2 1395.8L1115.1 1396.3L1116.5 1396.4Z" fill="#fff" fill-opacity=".62"/>
<path d="M859.7 719.8Q885.2 730.5 900.4 753.5M823.7 764Q851.3 770.9 868.7 793.4M802.2 804.5Q831.3 806.7 851.7 827.5M782.1 843.4Q811.8 847.2 830.3 870.7M760.6 883.8Q791.2 883.7 811.9 906.3M744.9 929.5Q775.4 923.7 799.1 943.8M733.5 985.5Q763.2 975.7 788.9 993.5M729.2 1034.2Q757.8 1021.3 785.2 1036.4M731.8 1086.9Q757.7 1069.3 787.4 1079.5M740.6 1132.2Q764.4 1111.8 794.9 1118.7M753.4 1174Q774.2 1150.6 805.4 1153.3M772.8 1210.8Q789.5 1184.3 820.7 1181.7M802.4 1251.6Q813.6 1222.4 843.6 1213.7M833.8 1281.8Q842.2 1251.6 871.4 1240.3M863.6 1307.1Q869.8 1276.4 898 1262.9M894.6 1329.4Q898.3 1298.3 925.4 1282.6M940.7 1356Q940.8 1324.7 965.9 1306M986.4 1376.3Q980.9 1345.4 1002.2 1322.5M1032.3 1386.3Q1023.5 1356.3 1042.3 1331.2M1070.8 1392.1Q1060 1362.7 1076.9 1336.4" fill="none" stroke="#9c9c98" stroke-opacity=".9" stroke-width="4"/>
<path d="M888.7 725.8L886.6 728.5L884.5 731.2L882.2 734L879.8 736.9L877.2 740L874.5 743.1L871.7 746.3L868.8 749.7L865.8 753.1L862.8 756.6L859.9 760.1L856.9 763.8L854 767.5L851.2 771.3L848.6 775.1L846 779L843.5 783L841.1 787.2L838.8 791.6L836.5 796.1L834.2 800.7L831.9 805.3L829.7 810L827.5 814.7L825.4 819.3L823.3 823.9L821.2 828.4L819.1 832.8L817 837L815 841L813 844.9L810.9 848.6L808.9 852.3L806.9 855.9L804.9 859.3L802.9 862.8L801 866.1L799.1 869.4L797.3 872.7L795.5 876L793.7 879.2L792.1 882.5L790.4 885.7L788.9 889L787.4 892.2L786.1 895.4L784.7 898.5L783.5 901.6L782.3 904.6L781.1 907.7L780 910.7L779 913.7L777.9 916.8L776.9 919.9L775.9 923L774.9 926.3L774 929.6L773 933L772 936.5L771.1 940.1L770.2 943.8L769.2 947.5L768.4 951.3L767.5 955.1L766.6 958.9L765.8 962.8L765.1 966.7L764.3 970.6L763.6 974.5L762.9 978.3L762.3 982.2L761.7 986L761.1 989.8L760.6 993.7L760.2 997.6L759.7 1001.5L759.3 1005.4L758.9 1009.3L758.6 1013.2L758.3 1017.1L758 1021L757.7 1024.7L757.5 1028.4L757.3 1032.1L757.2 1035.6L757.1 1039L757 1042.3L757 1045.5L757 1048.6L757 1051.6L757.1 1054.5L757.2 1057.4L757.4 1060.2L757.6 1063L757.8 1065.8L758 1068.6L758.3 1071.4L758.5 1074.2L758.9 1077.1L759.2 1080L759.6 1083L760 1085.9L760.4 1088.9L760.8 1091.9L761.3 1094.9L761.9 1097.9L762.4 1100.9L763 1103.9L763.6 1107L764.2 1110L764.8 1113L765.5 1116L766.2 1119L766.9 1122L767.6 1125L768.4 1128.1L769.2 1131.1L770 1134.2L770.8 1137.3L771.6 1140.4L772.5 1143.4L773.4 1146.5L774.3 1149.5L775.3 1152.5L776.3 1155.5L777.3 1158.4L778.4 1161.2L779.5 1164L780.7 1166.7L781.9 1169.4L783.1 1172.1L784.4 1174.7L785.8 1177.3L787.1 1179.9L788.5 1182.4L789.9 1184.9L791.3 1187.3L792.8 1189.7L794.2 1192.1L795.6 1194.4L797 1196.7L798.4 1199L799.8 1201.2L801.1 1203.4L802.4 1205.5L803.7 1207.5L805 1209.5L806.3 1211.5L807.6 1213.4L809 1215.4L810.4 1217.3L811.8 1219.2L813.2 1221.1L814.8 1223.1L816.3 1225L818 1227L819.7 1229L821.5 1231L823.4 1233L825.3 1235L827.2 1237L829.2 1239L831.2 1241L833.3 1243L835.3 1245L837.4 1247L839.6 1249L841.7 1251L843.8 1253L846 1255L848.2 1257L850.4 1259L852.6 1261.1L854.9 1263.1L857.2 1265.2L859.6 1267.3L861.9 1269.3L864.3 1271.3L866.6 1273.4L869 1275.4L871.3 1277.3L873.7 1279.3L876 1281.2L878.3 1283L880.6 1284.8L882.9 1286.6L885.2 1288.3L887.5 1290.1L889.7 1291.8L892 1293.5L894.3 1295.1L896.6 1296.8L898.8 1298.4L901.1 1299.9L903.3 1301.5L905.6 1303L907.8 1304.5L910 1306L912.2 1307.4L914.4 1308.9L916.5 1310.2L918.7 1311.6L920.8 1312.9L923 1314.2L925.1 1315.5L927.2 1316.8L929.4 1318L931.5 1319.2L933.6 1320.4L935.7 1321.6L937.9 1322.8L940 1324L942.1 1325.2L944.3 1326.3L946.4 1327.5L948.6 1328.6L950.7 1329.7L952.9 1330.8L955 1331.9L957.1 1332.9L959.3 1334L961.4 1335L963.6 1336L965.7 1337L967.9 1338L970 1339L972.1 1340L974 1340.9L975.9 1341.8L977.7 1342.7L979.5 1343.5L981.3 1344.4L983.1 1345.2L985 1346L987.1 1346.9L989.2 1347.7L991.6 1348.5L994.1 1349.3L996.9 1350.2L1000 1351L1003.4 1351.8L1007 1352.7L1010.9 1353.6L1015 1354.5L1019.3 1355.4L1023.7 1356.3L1028.2 1357.1L1032.8 1358L1037.4 1358.8L1042.1 1359.6" fill="none" stroke="#cc1e0c" stroke-width="7.4" stroke-linecap="round"/>
<path d="M907.2 699.2L894.8 734.7L877 721.7Z" fill="#cc1e0c"/>
<path d="M1121.5 1340.6L1120.2 1340.5L1115.2 1340L1110.1 1339.6L1105.2 1339.2L1100.3 1338.7L1095.4 1338.3L1090.5 1337.8L1085.7 1337.4L1080.9 1336.9L1076.2 1336.3L1071.5 1335.8L1066.8 1335.2L1062.1 1334.5L1057.4 1333.8L1052.6 1333L1047.9 1332.2L1043.1 1331.4L1038.3 1330.5L1033.6 1329.6L1029 1328.8L1024.3 1327.8L1019.7 1326.8L1015 1325.8L1010.5 1324.8L1006.5 1323.7L1002.2 1322.5L998.7 1321.4L995.9 1320.2L992.2 1318.6L987.9 1316.5L983.2 1314.2L978.6 1312.1L974.3 1310.1L970.1 1308.1L965.9 1306L961.7 1303.9L957.6 1301.7L953.4 1299.4L949.4 1297.2L945.3 1294.9L941.2 1292.5L937.3 1290.1L933.3 1287.7L929.4 1285.3L925.4 1282.6L921.5 1280L917.7 1277.4L913.8 1274.7L910.1 1272L906.3 1269.2L902.5 1266.3L898.8 1263.5L895.2 1260.7L891.5 1257.6L887.9 1254.7L884.3 1251.7L880.6 1248.5L877.1 1245.4L873.6 1242.2L869.9 1239L866.4 1235.7L862.9 1232.5L859.3 1229.1L855.8 1225.8L852.4 1222.6L849 1219.2L845.9 1216.1L843 1213L840.2 1209.9L837.5 1206.7L835 1203.5L832.5 1200.1L830 1196.6L827.6 1192.9L825.2 1189L822.7 1185L820.1 1180.9L817.7 1176.8L815.3 1172.8L813 1168.7L810.9 1164.9L809 1161.3L807.3 1157.7L805.5 1153.7L804.1 1150L802.7 1146.2L801.3 1141.9L800 1137.7L798.7 1133.2L797.5 1128.8L796.3 1124.2L795.1 1119.6L794 1115.1L792.9 1110.4L791.9 1105.9L791 1101.5L790.1 1096.8L789.3 1092.3L788.5 1087.6L787.9 1083.2L787.3 1078.7L786.7 1074L786.2 1069.5L785.8 1065L785.5 1060.6L785.2 1056.3L785.1 1051.6L785 1047.3L785 1042.6L785.1 1038.2L785.3 1033.4L785.5 1028.9L785.8 1024.2L786.2 1019.4L786.5 1014.9L787 1010.1L787.4 1005.4L788 1000.9L788.5 996.2L789.2 991.5L789.9 986.9L790.6 982.5L791.5 977.8L792.3 973.1L793.3 968.4L794.2 964L795.2 959.3L796.3 954.7L797.4 950.3L798.6 945.7L799.8 941.1L801 936.8L802.4 932.3L803.7 928.1L805.2 923.6L806.6 919.5L808.2 915.2L809.8 911.2L811.6 906.9L813.3 903L815.2 898.8L817 895.1L819.1 891L821.3 886.9L823.5 882.9L825.9 878.6L828.3 874.2L830.8 869.8L833.4 865.1L835.9 860.5L838.4 855.8L840.8 851L843.1 846.2L845.3 841.4L847.5 836.7L849.6 832.1L851.7 827.5L853.7 823L855.7 818.6L857.7 814.3L859.8 810.1L861.8 806L863.9 802L865.9 798.2L868.1 794.5L870.3 790.9L872.7 787.4L875.2 783.9L877.9 780.4L880.7 776.8L883.4 773.5L886.5 769.9L889.6 766.1L892.9 762.4L896.2 758.5L899.5 754.5L903.1 750.2L906.3 746L909.6 741.6L912.7 737.5L915.8 733.3L918.8 729.2L921.7 725.1L924.7 721L927.6 717A26 26 0 0 0 885.6 686.2L882.6 690.3L879.6 694.3L876.7 698.2L873.8 702.1L870.8 705.9L867.9 709.8L865 713.4L862.1 717L859.2 720.3L856.1 723.9L852.8 727.6L849.5 731.4L846.1 735.2L842.7 739.1L839 743.5L835.5 747.8L832.1 752.2L828.7 756.8L825.4 761.5L822.2 766.3L819.2 771.2L816.5 776.1L813.8 781L811.3 785.8L808.9 790.5L806.6 795.2L804.4 799.9L802.2 804.5L800.1 809L798 813.4L795.9 817.7L793.8 822L791.7 826.1L789.5 830.3L787.3 834.3L785 838.5L782.6 842.5L780.1 846.8L777.6 851.1L775.1 855.5L772.4 860.1L769.8 864.8L767.3 869.6L764.6 874.8L762.3 879.8L760 885.1L758 890L755.9 895.3L754 900.3L752.1 905.6L750.5 910.7L748.8 916L747.3 921.1L745.8 926.4L744.4 931.4L743.1 936.5L741.8 941.9L740.6 947L739.5 952.1L738.4 957.4L737.3 962.6L736.4 967.7L735.5 972.9L734.6 978.3L733.8 983.5L733 988.8L732.4 994L731.8 999.5L731.2 1004.7L730.7 1009.9L730.3 1015.3L729.9 1020.5L729.6 1025.8L729.4 1031.2L729.2 1036.5L729 1042.1L729 1047.4L729.1 1053.1L729.3 1058.4L729.6 1064L730 1069.6L730.5 1075.1L731.1 1080.5L731.7 1085.7L732.4 1091.1L733.2 1096.6L734.1 1101.8L735.1 1107.2L736.1 1112.3L737.2 1117.6L738.4 1122.9L739.5 1128L740.8 1133.1L742.1 1138.3L743.4 1143.3L744.9 1148.6L746.3 1153.7L748 1159.1L749.7 1164.2L751.7 1169.8L753.9 1175.5L756.2 1180.6L758.8 1186L761.5 1191.3L764.2 1196.3L766.8 1200.8L769.6 1205.5L772.3 1210L775 1214.4L777.7 1218.8L780.6 1223.4L783.7 1228.1L787 1232.8L790.5 1237.4L794.1 1242L797.9 1246.5L801.8 1250.9L805.7 1255L809.6 1259L813.3 1262.7L817.2 1266.4L821 1269.9L824.7 1273.4L828.5 1276.9L832.3 1280.4L836.1 1283.9L840 1287.4L844 1290.8L847.9 1294.2L852 1297.6L856.1 1301.1L860.1 1304.3L864.4 1307.7L868.7 1311L872.8 1314.1L877.1 1317.3L881.5 1320.4L885.8 1323.4L890.2 1326.4L894.6 1329.4L899 1332.2L903.5 1335.1L908.1 1338L912.7 1340.7L917.3 1343.4L921.9 1346L926.6 1348.6L931.3 1351.1L936 1353.6L940.7 1356L945.5 1358.4L950.3 1360.7L955 1362.9L959.5 1365L963.8 1367L968.5 1369.3L973.9 1371.7L980.4 1374.3L986.4 1376.3L991.8 1377.8L997.5 1379.2L1002.6 1380.4L1007.8 1381.6L1012.9 1382.6L1018 1383.7L1023.3 1384.7L1028.4 1385.6L1033.4 1386.5L1038.5 1387.4L1043.6 1388.3L1048.7 1389.1L1053.9 1389.9L1059.1 1390.6L1064.4 1391.3L1069.6 1392L1074.8 1392.5L1079.9 1393.1L1085 1393.6L1090.1 1394L1095.2 1394.5L1100.3 1395L1105.3 1395.4L1110.2 1395.8L1115.1 1396.3L1116.5 1396.4" fill="none" stroke="#0c0c0c" stroke-width="2.3"/>
</g>
<g filter="url(#soft)">
<ellipse cx="1203" cy="1181.5" rx="22" ry="50.5" transform="rotate(45 1203 1181.5)" fill="#f6f1c6" stroke="#0c0c0c" stroke-width="2.4"/>
<ellipse cx="1207" cy="1185.5" rx="21" ry="49.5" transform="rotate(45 1207 1185.5)" fill="#f6f1c6" stroke="#0c0c0c" stroke-width="2.4"/>
<path d="M1191.8 1204.5C1186 1196 1196 1180 1210 1171C1224 1163 1238 1164 1243 1174L1243.8 1175.1L1244.8 1176.5L1246 1178.1L1247.4 1180L1248.8 1182L1250.3 1184.1L1251.9 1186.2L1253.5 1188.2L1255 1190.2L1256.4 1192L1257.8 1193.7L1259.2 1195.3L1260.7 1196.8L1262.2 1198.4L1263.6 1199.9L1265.1 1201.4L1266.5 1203L1267.9 1204.6L1269.3 1206.2L1270.6 1208L1271.9 1209.8L1273.1 1211.7L1274.3 1213.6L1275.5 1215.6L1276.7 1217.6L1277.8 1219.7L1278.9 1221.7L1280 1223.8L1281 1225.9L1282 1228L1282.9 1230.1L1283.8 1232.3L1284.6 1234.5L1285.4 1236.7L1286.2 1238.9L1286.9 1241.1L1287.6 1243.3L1288.3 1245.6L1289 1247.8L1289.6 1250L1290.2 1252.2L1290.8 1254.3L1291.3 1256.3L1291.8 1258.4L1292.3 1260.5L1292.8 1262.6L1293.2 1264.8L1293.7 1267.1L1294.1 1269.5L1294.5 1272L1294.9 1274.8L1295.3 1278L1295.8 1281.4L1296.2 1284.9L1296.6 1288.4L1296.9 1291.8L1297.3 1295L1297.5 1297.8L1297.8 1300.2L1298 1302L1244.5 1302L1244.3 1301.3L1244.1 1300.5L1243.8 1299.5L1243.5 1298.4L1243.2 1297.2L1242.8 1296L1242.4 1294.6L1242 1293.1L1241.5 1291.6L1241 1290L1240.5 1288.3L1239.9 1286.5L1239.2 1284.6L1238.5 1282.6L1237.8 1280.5L1237.1 1278.4L1236.4 1276.3L1235.6 1274.1L1234.8 1272L1234 1270L1233.2 1268L1232.3 1266L1231.4 1263.9L1230.5 1261.9L1229.6 1259.8L1228.7 1257.8L1227.8 1255.8L1226.8 1253.8L1225.9 1251.9L1225 1250L1224.1 1248.2L1223.2 1246.3L1222.3 1244.6L1221.4 1242.8L1220.6 1241.1L1219.7 1239.4L1218.8 1237.7L1217.9 1236.1L1216.9 1234.5L1216 1233L1215.1 1231.5L1214.1 1230.1L1213.2 1228.8L1212.3 1227.5L1211.3 1226.2L1210.4 1225L1209.3 1223.7L1208.3 1222.4L1207.2 1221.1L1206 1219.7L1204.7 1218.2L1203.2 1216.5L1201.6 1214.8L1199.9 1213L1198.3 1211.3L1196.7 1209.6L1195.1 1208L1193.8 1206.6L1192.7 1205.4L1191.8 1204.5Z" fill="#fff"/>
<path d="M1208.3 1222.4Q1220.4 1193.9 1259.2 1195.3M1219.7 1239.4Q1237.4 1210.3 1275.5 1215.6M1230.5 1261.9Q1252.6 1232.5 1286.9 1241.1M1239.9 1286.5Q1263.2 1257.1 1293.7 1267.1" fill="none" stroke="#b4b4b4" stroke-width="3.2"/>
<path d="M1191.8 1204.5C1186 1196 1196 1180 1210 1171C1224 1163 1238 1164 1243 1174L1243.8 1175.1L1244.8 1176.5L1246 1178.1L1247.4 1180L1248.8 1182L1250.3 1184.1L1251.9 1186.2L1253.5 1188.2L1255 1190.2L1256.4 1192L1257.8 1193.7L1259.2 1195.3L1260.7 1196.8L1262.2 1198.4L1263.6 1199.9L1265.1 1201.4L1266.5 1203L1267.9 1204.6L1269.3 1206.2L1270.6 1208L1271.9 1209.8L1273.1 1211.7L1274.3 1213.6L1275.5 1215.6L1276.7 1217.6L1277.8 1219.7L1278.9 1221.7L1280 1223.8L1281 1225.9L1282 1228L1282.9 1230.1L1283.8 1232.3L1284.6 1234.5L1285.4 1236.7L1286.2 1238.9L1286.9 1241.1L1287.6 1243.3L1288.3 1245.6L1289 1247.8L1289.6 1250L1290.2 1252.2L1290.8 1254.3L1291.3 1256.3L1291.8 1258.4L1292.3 1260.5L1292.8 1262.6L1293.2 1264.8L1293.7 1267.1L1294.1 1269.5L1294.5 1272L1294.9 1274.8L1295.3 1278L1295.8 1281.4L1296.2 1284.9L1296.6 1288.4L1296.9 1291.8L1297.3 1295L1297.5 1297.8L1297.8 1300.2L1298 1302" fill="none" stroke="#0c0c0c" stroke-width="2.4"/>
<path d="M1191.8 1204.5L1192.7 1205.4L1193.8 1206.6L1195.1 1208L1196.7 1209.6L1198.3 1211.3L1199.9 1213L1201.6 1214.8L1203.2 1216.5L1204.7 1218.2L1206 1219.7L1207.2 1221.1L1208.3 1222.4L1209.3 1223.7L1210.4 1225L1211.3 1226.2L1212.3 1227.5L1213.2 1228.8L1214.1 1230.1L1215.1 1231.5L1216 1233L1216.9 1234.5L1217.9 1236.1L1218.8 1237.7L1219.7 1239.4L1220.6 1241.1L1221.4 1242.8L1222.3 1244.6L1223.2 1246.3L1224.1 1248.2L1225 1250L1225.9 1251.9L1226.8 1253.8L1227.8 1255.8L1228.7 1257.8L1229.6 1259.8L1230.5 1261.9L1231.4 1263.9L1232.3 1266L1233.2 1268L1234 1270L1234.8 1272L1235.6 1274.1L1236.4 1276.3L1237.1 1278.4L1237.8 1280.5L1238.5 1282.6L1239.2 1284.6L1239.9 1286.5L1240.5 1288.3L1241 1290L1241.5 1291.6L1242 1293.1L1242.4 1294.6L1242.8 1296L1243.2 1297.2L1243.5 1298.4L1243.8 1299.5L1244.1 1300.5L1244.3 1301.3L1244.5 1302" fill="none" stroke="#0c0c0c" stroke-width="2.4"/>
<path d="M1231 1203C1233.5 1206.2 1241.8 1215.5 1246 1222C1250.2 1228.5 1253.5 1236 1256 1242C1258.5 1248 1260.2 1255.3 1261 1258" fill="none" stroke="#c8261a" stroke-width="8" stroke-linecap="round"/>
<path d="M1265 1293L1250.6 1254.2L1271.5 1252.2Z" fill="#c8261a"/>
</g>
<g filter="url(#soft)">
<path d="M1082.7 1422L1077.8 1422.7L1072.8 1423.3L1067.8 1424L1062.7 1424.7L1057.5 1425.6L1052.3 1426.6L1047 1427.9L1041.8 1429.4L1036.8 1431.1L1031.6 1433.1L1026.7 1435.3L1021.7 1437.8L1017.1 1440.3L1012.5 1443.1L1008 1446.1L1003.6 1449.2L999.4 1452.4L995.3 1455.7L991.3 1459.2L987.4 1462.8L983.6 1466.5L980.1 1470.2L976.6 1473.9L973.2 1477.6L969.8 1481.3L966.4 1484.8L963 1488.4L959.6 1491.8L956.1 1495.2L952.5 1498.7L949 1502.1L945.4 1505.5L941.8 1508.8L938.2 1512.1L934.5 1515.4L930.9 1518.6L927.3 1521.5L923.6 1524.4L919.7 1527.2L915.7 1529.9L912.5 1532.1L923.5 1547.9L926.5 1545.8L930.7 1542.9L935 1539.8L939.2 1536.6L943.4 1533.2L947.3 1529.8L951 1526.4L954.8 1522.9L958.5 1519.5L962.2 1516L965.8 1512.5L969.5 1509L973.1 1505.4L976.8 1501.8L980.3 1498.1L983.8 1494.4L987.2 1490.7L990.6 1487.1L993.9 1483.5L997.3 1480L1000.7 1476.7L1004.1 1473.5L1007.7 1470.4L1011.3 1467.4L1015.1 1464.6L1018.9 1461.9L1022.7 1459.4L1026.7 1457L1030.8 1454.7L1034.8 1452.7L1039 1450.8L1043.1 1449.2L1047.6 1447.7L1052 1446.4L1056.4 1445.3L1061 1444.5L1065.7 1443.7L1070.5 1443L1075.4 1442.3L1080.3 1441.7L1085.3 1441Z" fill="#fff"/>
<path d="M1082.7 1422L1077.8 1422.7L1072.8 1423.3L1067.8 1424L1062.7 1424.7L1057.5 1425.6L1052.3 1426.6L1047 1427.9L1041.8 1429.4L1036.8 1431.1L1031.6 1433.1L1026.7 1435.3L1021.7 1437.8L1017.1 1440.3L1012.5 1443.1L1008 1446.1L1003.6 1449.2L999.4 1452.4L995.3 1455.7L991.3 1459.2L987.4 1462.8L983.6 1466.5L980.1 1470.2L976.6 1473.9L973.2 1477.6L969.8 1481.3L966.4 1484.8L963 1488.4L959.6 1491.8L956.1 1495.2L952.5 1498.7L949 1502.1L945.4 1505.5L941.8 1508.8L938.2 1512.1L934.5 1515.4L930.9 1518.6L927.3 1521.5L923.6 1524.4L919.7 1527.2L915.7 1529.9L912.5 1532.1" fill="none" stroke="url(#gFade)" stroke-width="2.1"/>
<path d="M1085.3 1441L1080.3 1441.7L1075.4 1442.3L1070.5 1443L1065.7 1443.7L1061 1444.5L1056.4 1445.3L1052 1446.4L1047.6 1447.7L1043.1 1449.2L1039 1450.8L1034.8 1452.7L1030.8 1454.7L1026.7 1457L1022.7 1459.4L1018.9 1461.9L1015.1 1464.6L1011.3 1467.4L1007.7 1470.4L1004.1 1473.5L1000.7 1476.7L997.3 1480L993.9 1483.5L990.6 1487.1L987.2 1490.7L983.8 1494.4L980.3 1498.1L976.8 1501.8L973.1 1505.4L969.5 1509L965.8 1512.5L962.2 1516L958.5 1519.5L954.8 1522.9L951 1526.4L947.3 1529.8L943.4 1533.2L939.2 1536.6L935 1539.8L930.7 1542.9L926.5 1545.8L923.5 1547.9" fill="none" stroke="url(#gFade)" stroke-width="2.1"/>
<path d="M1300 1325C1305.9 1327.5 1299.5 1346.4 1300 1350C1300.5 1353.6 1303.2 1359.2 1305 1361C1306.8 1362.8 1315.3 1367 1318 1368C1320.7 1369 1329.6 1370 1332 1371C1334.4 1372 1340.5 1375.9 1342 1378C1343.5 1380.1 1346.5 1388.8 1347 1392C1347.5 1395.2 1347.2 1406.8 1347 1410C1346.8 1413.2 1345.9 1421.6 1345 1424C1344.1 1426.4 1339.3 1432 1338 1434C1336.7 1436 1332.8 1441.6 1332 1444C1331.2 1446.4 1330.4 1455.2 1330 1458C1329.6 1460.8 1329 1469.7 1328 1472C1327 1474.3 1322.4 1479.6 1320 1481C1317.6 1482.4 1312 1485.5 1304 1486C1296 1486.5 1247.8 1486.2 1240 1486C1232.2 1485.8 1228.4 1484.9 1226 1484C1223.6 1483.1 1217.6 1479 1216 1477C1214.4 1475 1213 1465.4 1210 1464C1207 1462.6 1188.4 1467.4 1186 1463C1183.6 1458.6 1186 1427.7 1186 1420C1186 1412.3 1184.6 1390 1186 1386C1187.4 1382 1196.4 1381.4 1200 1380C1203.6 1378.6 1217.9 1373.8 1222 1372C1226.1 1370.2 1239.1 1365.2 1241 1362C1242.9 1358.8 1241 1343.7 1241 1340C1241 1336.3 1235.1 1326.5 1241 1325C1246.9 1323.5 1294.1 1322.5 1300 1325Z" fill="url(#gPump)" stroke="#0c0c0c" stroke-width="2.4" stroke-linejoin="round"/>
<path d="M1190 1399H1340M1190 1410H1344M1190 1438H1334M1190 1462H1330" stroke="#a9aeb8" stroke-width="1.2" fill="none" opacity=".8"/>
<ellipse cx="1280" cy="1384" rx="2.6" ry="3" fill="#6a6a60" stroke="#444" stroke-width="1"/>
<ellipse cx="1280" cy="1422" rx="2.6" ry="5" fill="#b9b9ac" stroke="#555" stroke-width="1.4" transform="rotate(12 1280 1422)"/>
<rect x="1238" y="1301" width="64" height="24" rx="2" fill="url(#gBand)" stroke="#0c0c0c" stroke-width="2.4"/>
<path d="M1178 1391H1200L1202 1396H1186V1462H1178Z" fill="#e8e8e2" stroke="#0c0c0c" stroke-width="2" stroke-linejoin="round"/>
<path d="M1081 1421L1104 1410L1130 1409L1130 1456L1104 1455L1082 1444Z" fill="url(#gCol2)" stroke="#0c0c0c" stroke-width="2.4" stroke-linejoin="round"/>
<path d="M1130 1408L1178 1406L1178 1460L1130 1458Z" fill="url(#gCol2)" stroke="#0c0c0c" stroke-width="2.4" stroke-linejoin="round"/>
<path d="M1172 1350L1286 1368C1255 1370 1225 1380 1200 1388L1172 1390Z" fill="url(#gCol)" stroke="#0c0c0c" stroke-width="2.4" stroke-linejoin="round"/>
<path d="M1143 1340L1164 1341L1173 1350L1173 1391L1166 1400L1143 1400Z" fill="url(#gCol)" stroke="#0c0c0c" stroke-width="2.4" stroke-linejoin="round"/>
<path d="M1119 1337L1143 1339L1144 1400L1120 1398L1116 1368Z" fill="url(#gCol)" stroke="#0c0c0c" stroke-width="2.4" stroke-linejoin="round"/>
</g>
<g filter="url(#soft)">
<path d="M906.1 570.8L894.7 521.5" stroke="#cd2a14" stroke-width="9.2" stroke-linecap="round" fill="none"/><path d="M881.8 465.5L910.8 519.9L879.6 527.1Z" fill="#cd2a14"/>
<path d="M970.4 566.1L970.4 513.5" stroke="#cd2a14" stroke-width="9.2" stroke-linecap="round" fill="none"/><path d="M970.4 457.5L985.9 515.5L954.9 515.5Z" fill="#cd2a14"/>
<path d="M1031.8 575.7L1049.4 528.7" stroke="#cd2a14" stroke-width="9.2" stroke-linecap="round" fill="none"/><path d="M1068.7 477L1063.2 536L1034.2 525.2Z" fill="#cd2a14"/>
<path d="M780.4 558.5L780.4 613.5" stroke="#1d1a4e" stroke-width="9" stroke-linecap="round" fill="none"/><path d="M780.4 667.5L765.6 611.5L795.2 611.5Z" fill="#1d1a4e"/>
<path d="M685.6 720.5L632 720.5" stroke="#1d1a4e" stroke-width="9.2" stroke-linecap="round" fill="none"/><path d="M577 720.5L634 704.7L634 736.3Z" fill="#1d1a4e"/>
<path d="M581.8 820.3L635.5 820.3" stroke="#cd2a14" stroke-width="9.5" stroke-linecap="round" fill="none"/><path d="M691 820.3L633.5 836.3L633.5 804.3Z" fill="#cd2a14"/>
<path d="M1191.1 736.3L1244.4 736.3" stroke="#1d1a4e" stroke-width="9" stroke-linecap="round" fill="none"/><path d="M1300.8 736.3L1242.4 752.1L1242.4 720.5Z" fill="#1d1a4e"/>
<path d="M1286.5 824.2L1232.8 824.2" stroke="#cd2a14" stroke-width="9" stroke-linecap="round" fill="none"/><path d="M1176.4 824.2L1234.8 808.1L1234.8 840.3Z" fill="#cd2a14"/>
<path d="M768 1326L768 1273" stroke="#1d1a4e" stroke-width="10" stroke-linecap="round" fill="none"/><path d="M768 1218L783.5 1275L752.5 1275Z" fill="#1d1a4e"/>
<path d="M1069.5 1494.2L1069.5 1548.5" stroke="#cd2a14" stroke-width="9" stroke-linecap="round" fill="none"/><path d="M1069.5 1604L1053.9 1546.5L1085.1 1546.5Z" fill="#cd2a14"/>
</g>
<g filter="url(#soft)">
<path d="M1367 1218.2L1292.5 1218.2" stroke="#44484a" stroke-width="6.3" stroke-linecap="butt" fill="none"/><path d="M1257.5 1218.2L1294.5 1202.9L1294.5 1233.5Z" fill="#44484a"/>
<path d="M1280.1 1528L1280.1 1470.2" stroke="#44484a" stroke-width="6.4" stroke-linecap="butt" fill="none"/><path d="M1280.1 1435.7L1295.3 1472.2L1264.9 1472.2Z" fill="#44484a"/>
<path d="M850 1411L897.6 1363.4" stroke="#44484a" stroke-width="6.6" stroke-linecap="butt" fill="none"/><path d="M922 1339L906.9 1375.6L885.4 1354.1Z" fill="#44484a"/>
</g>
<g font-family="&quot;Liberation Sans&quot;, &quot;Noto Sans CJK SC&quot;, sans-serif" fill="#0a0a0a" word-spacing="3.5" style="white-space:pre">
<text x="862.6" y="433.2" font-size="33.5" font-weight="500" letter-spacing="0.5">流向头部, 腕部</text>
<text x="599.6" y="533.1" font-size="33.5" font-weight="500" letter-spacing="0.5">由头部, 腕部流入</text>
<text x="435.5" y="734.9" font-size="33.5" font-weight="500" letter-spacing="0.5">流向肺部</text>
<text x="408.8" y="833.6" font-size="33.5" font-weight="500" letter-spacing="0.5">由肺部流入</text>
<text x="1303.8" y="750.1" font-size="33.5" font-weight="500" letter-spacing="0.5">流向肺部</text>
<text x="1303.8" y="838.1" font-size="33.5" font-weight="500" letter-spacing="0.5">由肺部流入</text>
<text x="1142.1" y="891.6" font-size="33.5" font-weight="500" letter-spacing="0.5">左心房</text>
<text x="612.8" y="973.1" font-size="33.5" font-weight="500" letter-spacing="0.5">右心房</text>
<text x="1181.8" y="1023.6" font-size="33.5" font-weight="500" letter-spacing="0.5">左心室</text>
<text x="903.8" y="1241.1" font-size="33.5" font-weight="500" letter-spacing="0.5">右心室</text>
<text x="567.8" y="1384.1" font-size="33.5" font-weight="500" letter-spacing="0.5">由器官, 下半身流入</text>
<text x="778.8" y="1567.6" font-size="33.5" font-weight="500" letter-spacing="0.5">流向器官, 下半身</text>
<text x="1374.2" y="1230.3" font-size="50" font-weight="500" letter-spacing="1.6">入血管</text>
<text x="766.2" y="1457.8" font-size="50" font-weight="500" letter-spacing="1.6">出血管</text>
<text x="1235.2" y="1572.8" font-size="50" font-weight="500" letter-spacing="1.6">血泵</text>
</g>
</svg>
</body></html>
